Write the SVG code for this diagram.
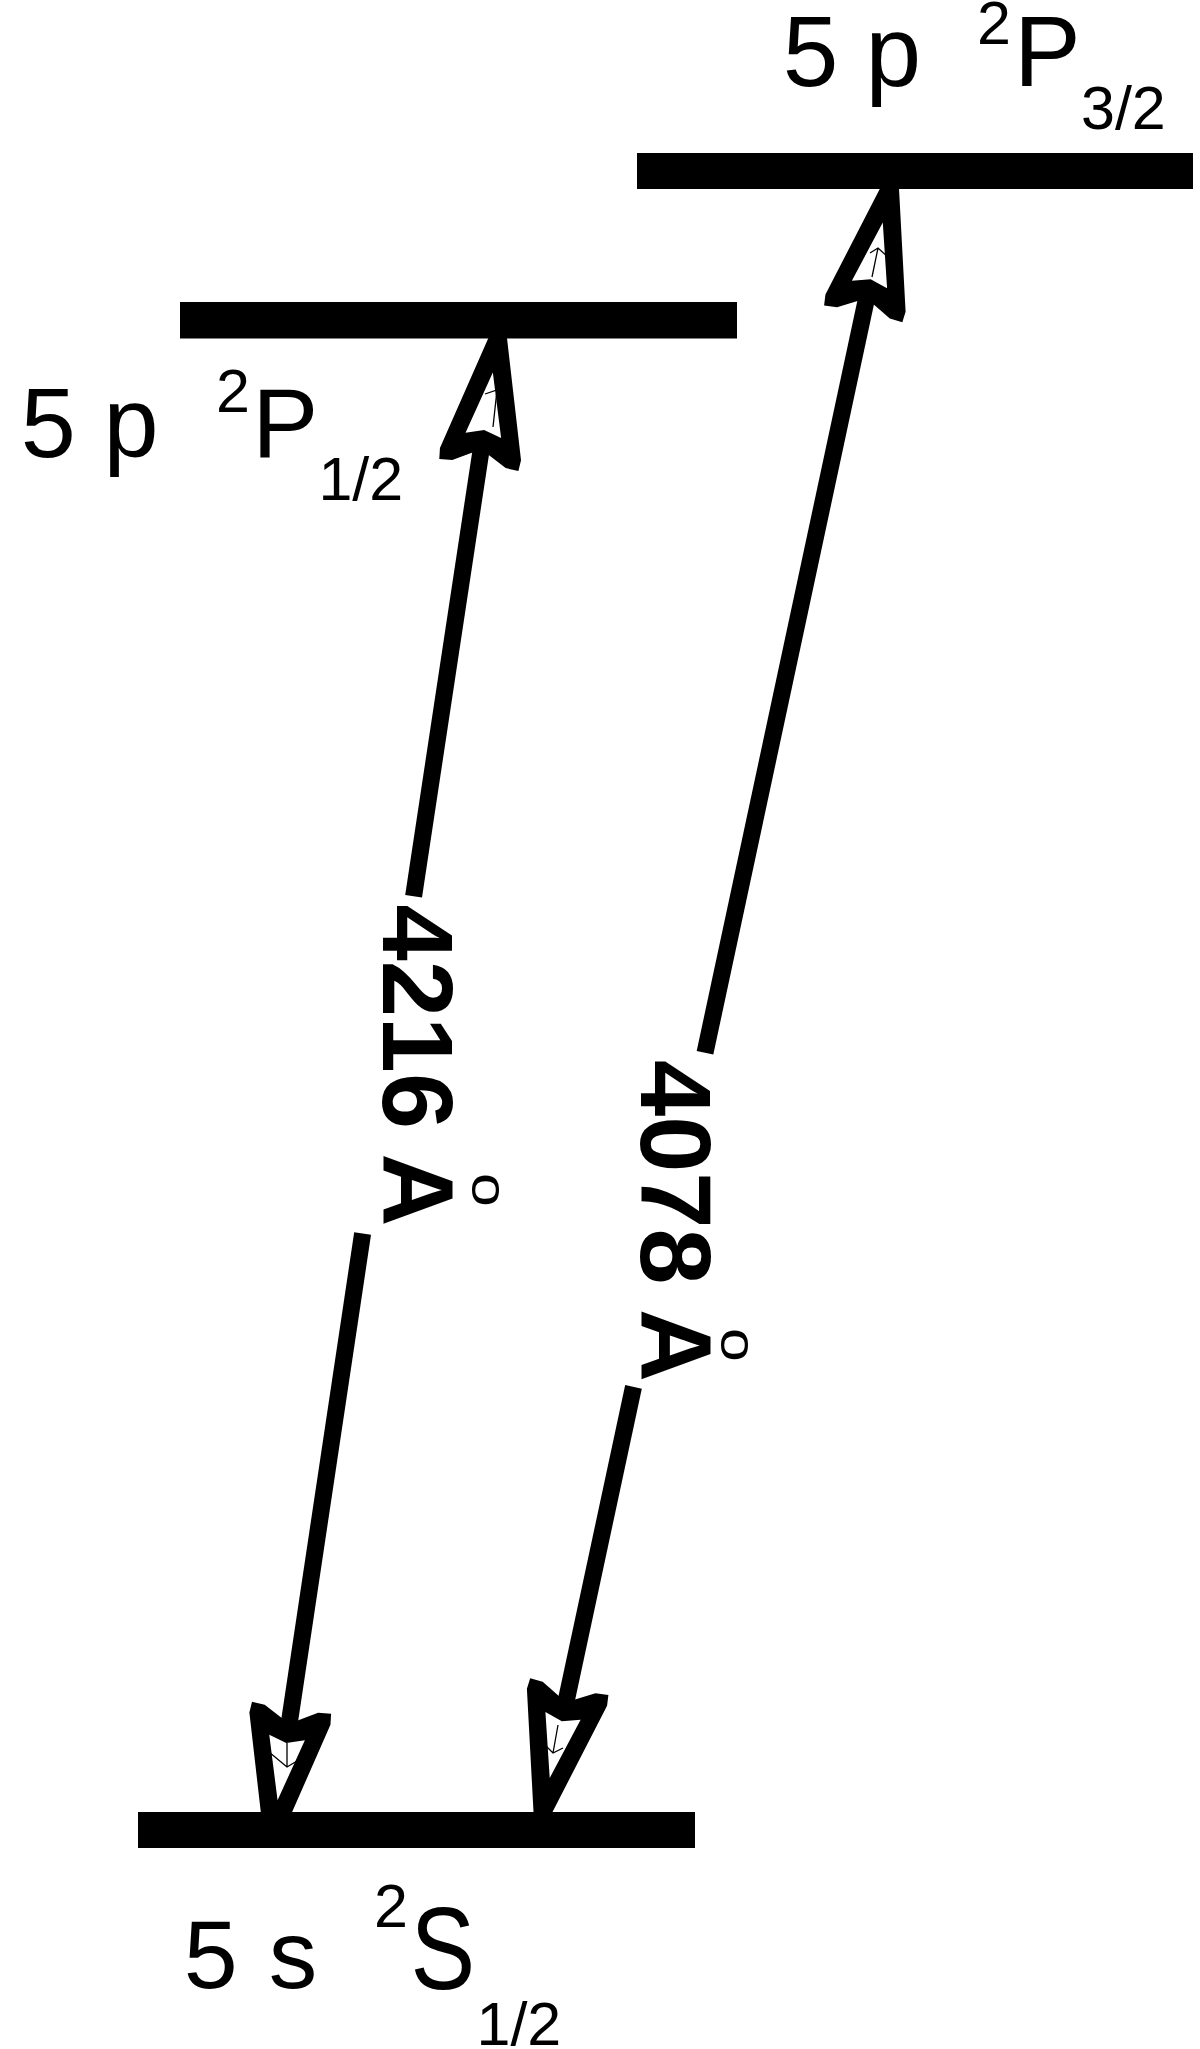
<svg xmlns="http://www.w3.org/2000/svg" xmlns:xlink="http://www.w3.org/1999/xlink" width="1200" height="2049" viewBox="0 0 1200 2049">
  <style>
    .bar { fill: #000; }
    .lbl { font-family: "Liberation Sans", Arial, Helvetica, sans-serif; fill: #000; }
    .wl { font-family: "Liberation Sans", Arial, Helvetica, sans-serif; font-weight: bold; font-size: 101px; fill: #000; }
    .ring { font-family: "Liberation Sans", Arial, Helvetica, sans-serif; font-size: 50px; fill: #000; }
    .shaft { stroke: #000; stroke-width: 17; fill: none; stroke-linecap: butt; }
    .hair { stroke: #000; stroke-width: 1.3; fill: none; }
    .head { fill: #000; fill-rule: evenodd; }
  </style>
  <defs>
    <path id="arrowhead" class="head" d="M-8.5,-3 L8.5,-3 L41,117 L40,128 L27,127 L0,112 L-27,127 L-40,128 L-41,117 Z M0,34.5 L18,98 L0,92.5 L-18,98 Z"/>
  </defs>
  <rect x="0" y="0" width="1200" height="2049" fill="#fff"/>

  <g id="connectors">
    <g id="transition-4216">
      <line class="shaft" x1="483" y1="437.4" x2="413.6" y2="896.2"/>
      <line class="shaft" x1="362.6" y1="1233.6" x2="287.4" y2="1735.5"/>
      <use xlink:href="#arrowhead" href="#arrowhead" transform="translate(498,338.5) rotate(8.61)"/>
      <use xlink:href="#arrowhead" href="#arrowhead" transform="translate(272.4,1834.4) rotate(188.61)"/>
      <path class="hair" d="M485,394 L497,390 L493,427"/>
      <path class="hair" d="M287,1743 L287,1767 M269,1752 L287,1767 L297,1761"/>
      <text class="wl" transform="translate(383.3,904.5) rotate(90)">4216 A</text>
      <text class="ring" transform="translate(472.3,1172.9) rotate(90) scale(1.22,1)">o</text>
    </g>
    <g id="transition-4078">
      <line class="shaft" x1="869.1" y1="286.5" x2="705" y2="1052.8"/>
      <line class="shaft" x1="633.5" y1="1386.9" x2="563.4" y2="1713.9"/>
      <use xlink:href="#arrowhead" href="#arrowhead" transform="translate(890,188.7) rotate(12.08)"/>
      <use xlink:href="#arrowhead" href="#arrowhead" transform="translate(542.5,1811.7) rotate(192.08)"/>
      <path class="hair" d="M870,253 L878,248 L889,258 M878,248 L872,277"/>
      <path class="hair" d="M558,1725 L553,1753 M545,1745 L553,1753 L563,1748"/>
      <text class="wl" transform="translate(640.5,1060) rotate(90)">4078 A</text>
      <text class="ring" transform="translate(720.6,1327.9) rotate(90) scale(1.22,1)">o</text>
    </g>
  </g>

  <g id="level-5p-2P3-2">
    <rect class="bar" x="637" y="153" width="556" height="36"/>
    <text class="lbl" font-size="100"><tspan x="782.7" y="86">5 </tspan><tspan x="865.4" y="86">p</tspan><tspan x="977" y="44" font-size="61">2</tspan><tspan x="1014" y="86">P</tspan><tspan x="1081" y="129" font-size="61">3/2</tspan></text>
  </g>

  <g id="level-5p-2P1-2">
    <rect class="bar" x="180" y="302" width="557" height="36.5"/>
    <text class="lbl" font-size="99"><tspan x="20.7" y="457">5 </tspan><tspan x="103.4" y="457">p</tspan><tspan x="216" y="411.5" font-size="61">2</tspan><tspan x="252.3" y="457">P</tspan><tspan x="318.4" y="500" font-size="61">1/2</tspan></text>
  </g>

  <g id="level-5s-2S1-2">
    <rect class="bar" x="138" y="1812" width="557" height="36"/>
    <text class="lbl" font-size="97"><tspan x="183.8" y="1988">5 </tspan><tspan x="268.8" y="1988">s</tspan><tspan x="374" y="1927" font-size="61">2</tspan><tspan x="476.5" y="2045" font-size="61">1/2</tspan></text>
    <text class="lbl" font-size="97" transform="translate(410.5,1989) scale(1,1.2)">S</text>
  </g>
</svg>
